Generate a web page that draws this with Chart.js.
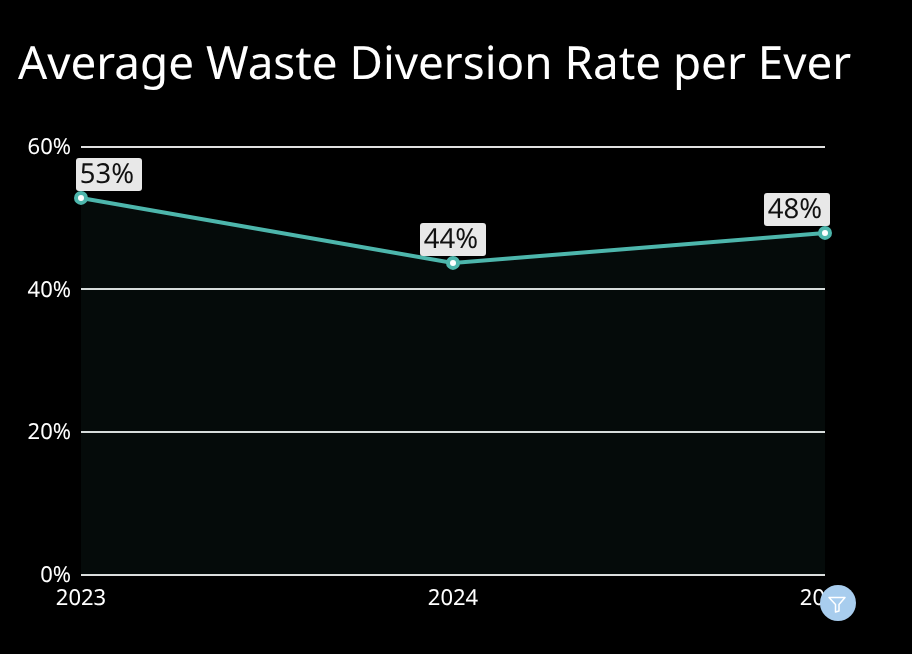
<!DOCTYPE html>
<html>
<head>
<meta charset="utf-8">
<title>Average Waste Diversion Rate per Event</title>
<script src="https://cdn.jsdelivr.net/npm/chart.js@4"></script>
<style>
    html, body { margin: 0; background: #000; overflow: hidden; }
    #wrap { position: relative; width: 912px; height: 654px; }
    #chart-title {
        position: absolute; left: 18px; top: 30px; margin: 0;
        color: #fff; font: normal 45.8px/64px "Noto Sans", sans-serif;
        white-space: nowrap; text-rendering: geometricPrecision;
    }
    #filter-btn {
        position: absolute; left: 820px; top: 585px; width: 36px; height: 36px;
        border-radius: 50%; background: #a8cdee;
    }
    #filter-btn svg { position: absolute; left: 7px; top: 9px; }
</style>
</head>
<body>
<div id="wrap">
    <canvas id="wasteChart" width="912" height="654"></canvas>
    <h1 id="chart-title"></h1>
    <div id="filter-btn">
        <svg width="20" height="20" viewBox="0 0 20 20" fill="none" stroke="#fff" stroke-width="1.5" stroke-linejoin="round">
            <path d="M2 3.5H18L12 10.5V17L8.5 18V10.5Z"/>
        </svg>
    </div>
</div>
<script>
const chartTitle = 'Average Waste Diversion Rate per Ever';
const years = ['2023', '2024', '2025'];
const diversionRates = [52.8, 43.7, 47.9];
const yTicks = [0, 20, 40, 60];

const fontFamily = '"Noto Sans", sans-serif';

document.getElementById('chart-title').textContent = chartTitle;

// unhinted glyph widths, same look as the title
const crispText = {
    id: 'crispText',
    beforeLayout(chart) { chart.ctx.textRendering = 'geometricPrecision'; },
    beforeDraw(chart) { chart.ctx.textRendering = 'geometricPrecision'; }
};

// value labels sit above each point, kept within the plot area
const valueLabels = {
    id: 'valueLabels',
    afterDatasetsDraw(chart) {
        const ctx = chart.ctx;
        const area = chart.chartArea;
        const boxW = 66, boxH = 33;
        chart.getDatasetMeta(0).data.forEach((pt, i) => {
            let left = pt.x - boxW / 2;
            left = Math.max(area.left - 5, Math.min(left, area.right + 5 - boxW));
            const top = pt.y - 7 - boxH;
            ctx.save();
            ctx.fillStyle = '#e8e8e8';
            ctx.beginPath();
            ctx.roundRect(left, top, boxW, boxH, 3);
            ctx.fill();
            ctx.fillStyle = '#111';
            ctx.font = '27.5px ' + fontFamily;
            ctx.textAlign = 'center';
            ctx.textBaseline = 'middle';
            ctx.fillText(Math.round(diversionRates[i]) + '%', left + boxW / 2 - 2, top + boxH / 2 + 1);
            ctx.restore();
        });
    }
};

new Chart(document.getElementById('wasteChart').getContext('2d'), {
    type: 'line',
    data: {
        labels: years,
        datasets: [{
            data: diversionRates,
            borderColor: '#4db6ac',
            borderWidth: 4,
            backgroundColor: 'rgba(77, 182, 172, 0.06)',
            fill: 'origin',
            tension: 0,
            clip: false,
            pointRadius: 5,
            pointBorderWidth: 4,
            pointBackgroundColor: '#fff',
            pointBorderColor: '#4db6ac'
        }]
    },
    options: {
        responsive: false,
        animation: false,
        layout: { padding: { left: 0, right: 87, top: 146.5, bottom: 0 } },
        plugins: {
            legend: { display: false },
            tooltip: { enabled: false },
            title: { display: false }
        },
        scales: {
            x: {
                offset: false,
                grid: { display: false },
                border: { display: false },
                afterFit(scale) { scale.height = 79; },
                ticks: {
                    color: '#fff',
                    font: { family: fontFamily, size: 22 },
                    padding: 3,
                    maxRotation: 0,
                    autoSkip: false
                }
            },
            y: {
                min: 0,
                max: 60,
                afterBuildTicks(scale) { scale.ticks = yTicks.map(v => ({ value: v })); },
                afterFit(scale) { scale.width = 81; },
                grid: { color: '#e0e0e0', lineWidth: 2, drawTicks: false },
                border: { display: false },
                ticks: {
                    color: '#fff',
                    font: { family: fontFamily, size: 22 },
                    padding: 10,
                    labelOffset: 1,
                    callback: v => v + '%'
                }
            }
        }
    },
    plugins: [crispText, valueLabels]
});
</script>
</body>
</html>
